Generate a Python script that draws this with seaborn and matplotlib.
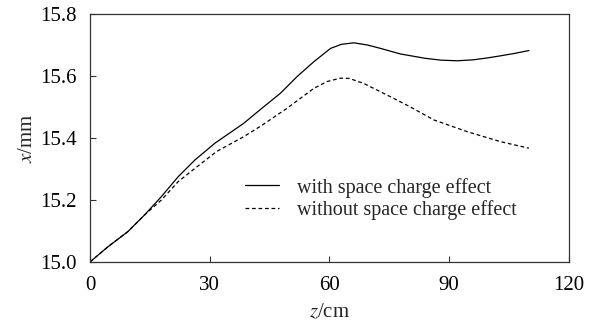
import numpy as np
import pandas as pd
import matplotlib
matplotlib.use("Agg")
import matplotlib.pyplot as plt
import seaborn as sns

# Data
z_with = [0, 4.5, 9.5, 13.7, 17.9, 22.1, 26.3, 31.3, 38.5, 43.0, 47.7, 51.9, 56.1, 60.3,
          63.0, 66.1, 69.5, 72.8, 77.8, 84.0, 88.0, 92.0, 96.0, 99.5, 102.9, 106.5, 110.0]
x_with = [15.0, 15.049, 15.098, 15.152, 15.211, 15.275, 15.329, 15.383, 15.447, 15.495,
          15.544, 15.598, 15.646, 15.689, 15.702, 15.707, 15.700, 15.689, 15.671, 15.657,
          15.651, 15.649, 15.652, 15.658, 15.665, 15.673, 15.682]

z_without = [0, 4.5, 9.5, 13.7, 17.9, 22.1, 26.3, 31.7, 38.5, 43.0, 49.4, 56.1, 59.4,
             62.8, 65.0, 68.6, 75.3, 80.3, 86.2, 94.6, 102.9, 110.0]
x_without = [15.0, 15.049, 15.098, 15.152, 15.200, 15.259, 15.302, 15.356, 15.404, 15.440,
             15.496, 15.560, 15.582, 15.593, 15.592, 15.576, 15.533, 15.500, 15.458, 15.420,
             15.388, 15.367]

labels = ["with space charge effect", "without space charge effect"]
x_ticks = [0, 30, 60, 90, 120]
y_ticks = [15.0, 15.2, 15.4, 15.6, 15.8]

df = pd.concat([
    pd.DataFrame({"z": z_with, "x": x_with, "case": labels[0]}),
    pd.DataFrame({"z": z_without, "x": x_without, "case": labels[1]}),
])

sns.set_theme(style="white")
plt.rcParams["font.family"] = ["Liberation Serif", "DejaVu Serif"]
plt.rcParams["mathtext.fontset"] = "stix"

fig = plt.figure(figsize=(6, 3.25), dpi=100)
ax = fig.add_axes([0.15, 0.194, 0.798, 0.763])

sns.lineplot(data=df, x="z", y="x", style="case", hue="case",
             palette=["black", "black"],
             dashes={labels[0]: "", labels[1]: (3, 2.2)},
             linewidth=0.9, ax=ax, sort=False, estimator=None)

ax.set_xlim(0, 120)
ax.set_ylim(15.0, 15.8)
ax.set_xticks(x_ticks)
ax.set_yticks(y_ticks)
ax.set_xticklabels([str(t) for t in x_ticks])
ax.set_yticklabels([f"{t:.1f}" for t in y_ticks])
ax.tick_params(direction="in", length=4, width=0.8, colors="#333333",
               labelcolor="black", labelsize=15, left=True, bottom=True)
ax.tick_params(axis="x", pad=10)
ax.tick_params(axis="y", pad=9.5)
for s in ax.spines.values():
    s.set_color("#333333")
    s.set_linewidth(0.9)

ax.set_xlabel(r"$z$/cm", fontsize=15, labelpad=5.5)
ax.set_ylabel(r"$x$/mm", fontsize=15, labelpad=2.5)

leg = ax.legend(loc="upper left", bbox_to_anchor=(0.324, 0.34), frameon=False,
                fontsize=14.5, handlelength=1.7, handletextpad=0.9,
                labelspacing=0.12, borderaxespad=0, borderpad=0)

fig.savefig("out.png", dpi=100)
